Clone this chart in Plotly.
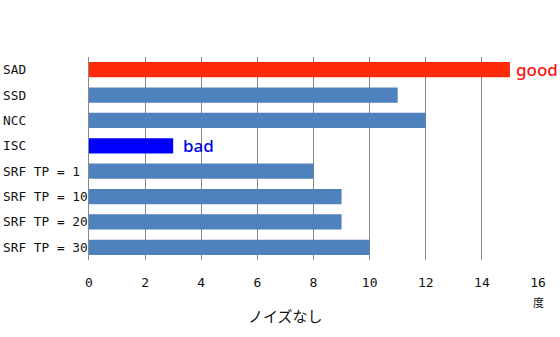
import plotly.graph_objects as go

categories = ["SAD", "SSD", "NCC", "ISC", "SRF TP = 1", "SRF TP = 10", "SRF TP = 20", "SRF TP = 30"]
values = [15, 11, 12, 3, 8, 9, 9, 10]
bar_colors = ["#FF2A0A", "#4F81BD", "#4F81BD", "#4F81BD", "#4F81BD", "#4F81BD", "#4F81BD", "#4F81BD"]
bar_colors[3] = "#0000FF"
tick_vals = [0, 2, 4, 6, 8, 10, 12, 14, 16]
x_title = "ノイズなし"
unit_label = "度"
notes = [("SAD", 15, "good", "#FF1010", 4), ("ISC", 3, "bad", "#0000EE", 8)]

W, H = 560, 337
L, R, T, B = 89, 22, 57, 77
pw = W - L - R

fig = go.Figure(go.Bar(
    y=categories, x=values, orientation="h",
    marker=dict(color=bar_colors, line=dict(width=0)),
    width=0.6,
))

ann = []
for c in categories:
    ann.append(dict(text=c, xref="paper", yref="y", x=-(L - 1) / pw, y=c,
                    xanchor="left", yanchor="middle", showarrow=False,
                    font=dict(family="DejaVu Sans Mono", size=12.8, color="#111")))
for cat, v, txt, col, sh in notes:
    ann.append(dict(text=txt, xref="x", yref="y", x=v, y=cat, xanchor="left",
                    yanchor="middle", xshift=sh, showarrow=False,
                    font=dict(family="Noto Sans", size=17, color=col, weight=500)))
ann.append(dict(text=unit_label, xref="x", yref="paper", x=16, y=-42 / (H - T - B),
                xanchor="center", yanchor="middle", showarrow=False,
                font=dict(family="Noto Sans CJK JP", size=11, color="#111")))
ann.append(dict(text=x_title, xref="paper", yref="paper", x=(285 - L) / pw, y=-55 / (H - T - B),
                xanchor="center", yanchor="middle", showarrow=False,
                font=dict(family="Noto Sans CJK JP", size=15, color="#111")))

fig.update_layout(
    width=W, height=H,
    margin=dict(l=L, r=R, t=T, b=B),
    paper_bgcolor="white", plot_bgcolor="white",
    showlegend=False,
    annotations=ann,
    xaxis=dict(range=[0, 16], tickvals=tick_vals, showgrid=True, gridcolor="#888",
               gridwidth=1, zeroline=False, showline=False, ticks="",
               ticklabelstandoff=13,
               tickfont=dict(family="DejaVu Sans Mono", size=13, color="#111")),
    yaxis=dict(categoryorder="array", categoryarray=categories, range=[7.5, -0.5],
               showticklabels=False, showgrid=False, zeroline=False,
               showline=True, linecolor="#888", linewidth=1, ticks=""),
)

fig.write_html("out.html")
